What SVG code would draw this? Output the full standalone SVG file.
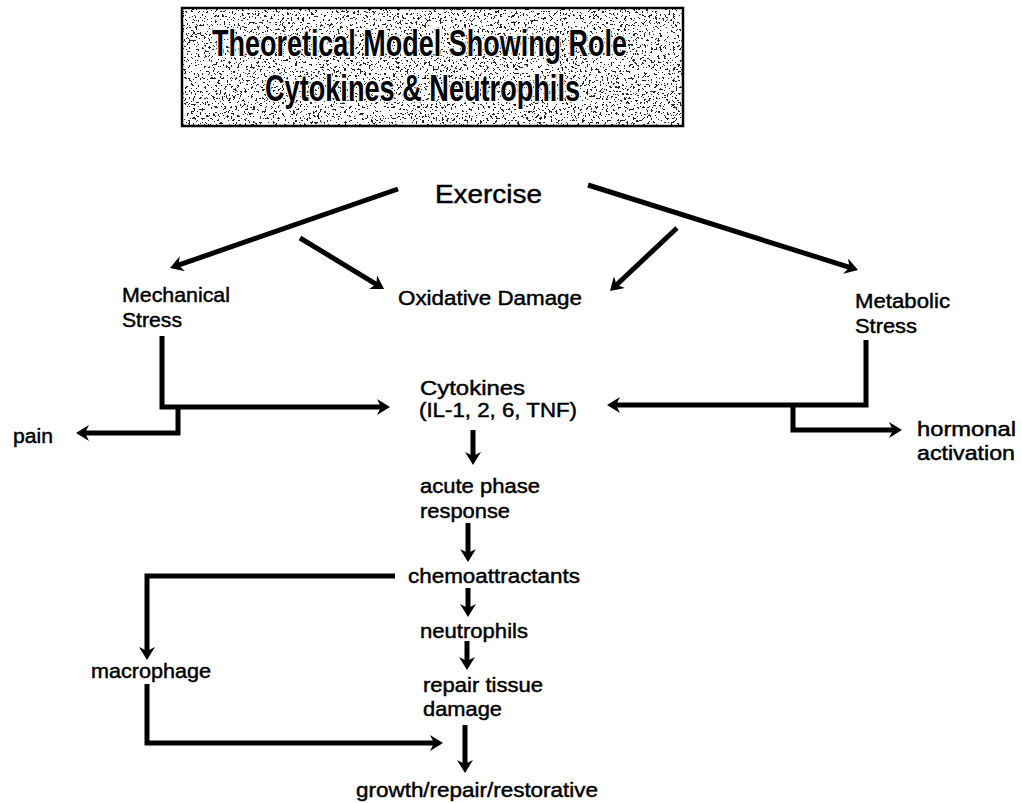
<svg xmlns="http://www.w3.org/2000/svg" width="1022" height="803" viewBox="0 0 1022 803">
<style>
  .t { font-family: "Liberation Sans", Arial, sans-serif; font-size: 20px; fill: #000; stroke: #000; stroke-width: 0.45px; }
  .big { font-size: 25px; }
  .title { font-family: "Liberation Sans", Arial, sans-serif; font-size: 36px; font-weight: bold; fill: #000; stroke: #fff; stroke-width: 3px; paint-order: stroke; stroke-linejoin: round; }
  .c { fill: none; stroke: #000; stroke-width: 5; stroke-linejoin: miter; stroke-linecap: butt; marker-end: url(#ah); }
</style>
<defs>
  <marker id="ah" markerUnits="userSpaceOnUse" markerWidth="14" markerHeight="16" refX="5" refY="8" orient="auto">
    <path d="M0,0 L13,8 L0,16 L4,8 z" fill="#000"/>
  </marker>
  <filter id="speck" x="0" y="0" width="100%" height="100%">
    <feTurbulence type="fractalNoise" baseFrequency="0.45" numOctaves="2" seed="7" result="t"/>
    <feColorMatrix in="t" type="matrix" values="0 0 0 0 0  0 0 0 0 0  0 0 0 0 0  1 0 0 0 0" result="a"/>
    <feComponentTransfer in="a" result="b">
      <feFuncA type="discrete" tableValues="0 0 0 0 0 1 1 1"/>
    </feComponentTransfer>
    <feComposite in="b" in2="SourceGraphic" operator="in"/>
  </filter>
</defs>
<rect width="1022" height="803" fill="#fff"/>

<g id="title">
  <rect x="182" y="8" width="501" height="118" fill="#fff"/>
  <rect x="182" y="8" width="501" height="118" fill="#000" filter="url(#speck)" opacity="0.85"/>
  <rect x="182" y="8" width="501" height="118" fill="none" stroke="#000" stroke-width="2.5"/>
  <text class="title" x="212" y="56" textLength="415" lengthAdjust="spacingAndGlyphs">Theoretical Model Showing Role</text>
  <text class="title" x="265" y="101" textLength="315" lengthAdjust="spacingAndGlyphs">Cytokines &amp; Neutrophils</text>
</g>

<g id="connectors">
  <line class="c" x1="398" y1="189" x2="177.6" y2="265.4"/>
  <line class="c" x1="300" y1="238" x2="377.2" y2="284.8"/>
  <line class="c" x1="677" y1="228" x2="615.8" y2="285.5"/>
  <line class="c" x1="588" y1="185" x2="850.4" y2="267.6"/>
  <path class="c" d="M162,336 V407 H382"/>
  <path class="c" d="M178,407 V433 H84"/>
  <path class="c" d="M866,340 V405 H615"/>
  <path class="c" d="M793,405 V430 H894"/>
  <path class="c" d="M473,430 V457"/>
  <path class="c" d="M468,523 V554"/>
  <path class="c" d="M395,576 H147 V652"/>
  <path class="c" d="M468,588 V609"/>
  <path class="c" d="M467,641 V662"/>
  <path class="c" d="M147,684 V743 H435"/>
  <path class="c" d="M465,725 V765"/>
</g>

<g id="exercise"><text class="t big" x="435" y="203" textLength="107" lengthAdjust="spacingAndGlyphs">Exercise</text></g>
<g id="mechanical-stress">
  <text class="t" x="122" y="302" textLength="108" lengthAdjust="spacingAndGlyphs">Mechanical</text>
  <text class="t" x="122" y="327" textLength="60" lengthAdjust="spacingAndGlyphs">Stress</text>
</g>
<g id="oxidative-damage"><text class="t" x="398" y="305" textLength="184" lengthAdjust="spacingAndGlyphs">Oxidative Damage</text></g>
<g id="metabolic-stress">
  <text class="t" x="855" y="308" textLength="95" lengthAdjust="spacingAndGlyphs">Metabolic</text>
  <text class="t" x="855" y="333" textLength="62" lengthAdjust="spacingAndGlyphs">Stress</text>
</g>
<g id="cytokines">
  <text class="t" x="420" y="395" textLength="105" lengthAdjust="spacingAndGlyphs">Cytokines</text>
  <text class="t" x="419" y="417" textLength="158" lengthAdjust="spacingAndGlyphs">(IL-1, 2, 6, TNF)</text>
</g>
<g id="pain"><text class="t" x="13" y="443" textLength="40" lengthAdjust="spacingAndGlyphs">pain</text></g>
<g id="hormonal-activation">
  <text class="t" x="917" y="436" textLength="99" lengthAdjust="spacingAndGlyphs">hormonal</text>
  <text class="t" x="917" y="460" textLength="98" lengthAdjust="spacingAndGlyphs">activation</text>
</g>
<g id="acute-phase-response">
  <text class="t" x="420" y="493" textLength="120" lengthAdjust="spacingAndGlyphs">acute phase</text>
  <text class="t" x="420" y="518" textLength="90" lengthAdjust="spacingAndGlyphs">response</text>
</g>
<g id="chemoattractants"><text class="t" x="408" y="583" textLength="172" lengthAdjust="spacingAndGlyphs">chemoattractants</text></g>
<g id="neutrophils"><text class="t" x="420" y="638" textLength="108" lengthAdjust="spacingAndGlyphs">neutrophils</text></g>
<g id="macrophage"><text class="t" x="91" y="678" textLength="120" lengthAdjust="spacingAndGlyphs">macrophage</text></g>
<g id="repair-tissue-damage">
  <text class="t" x="423" y="692" textLength="120" lengthAdjust="spacingAndGlyphs">repair tissue</text>
  <text class="t" x="423" y="716" textLength="79" lengthAdjust="spacingAndGlyphs">damage</text>
</g>
<g id="growth"><text class="t" x="356" y="797" textLength="242" lengthAdjust="spacingAndGlyphs">growth/repair/restorative</text></g>
</svg>
